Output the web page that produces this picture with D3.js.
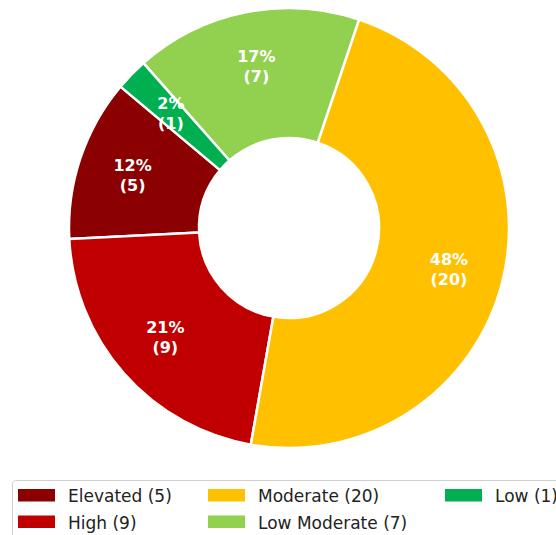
<!DOCTYPE html>
<html>
<head>
<meta charset="utf-8">
<script src="https://cdn.jsdelivr.net/npm/d3@7"></script>
<style>
  html, body { margin: 0; padding: 0; background: #fff; }
  svg { display: block; font-family: "DejaVu Sans", sans-serif; }
</style>
</head>
<body>
<svg id="chart" width="556" height="535"></svg>
<script>
// Risk level categories, counts and colours
const categories = ["Elevated", "High", "Moderate", "Low Moderate", "Low"];
const counts = [5, 9, 20, 7, 1];
const colors = ["#8B0000", "#C00000", "#FFC000", "#92D050", "#00B050"];

const svg = d3.select("#chart");
const cx = 289, cy = 228, outerR = 220, innerR = 90;

const total = d3.sum(counts);
const data = categories.map((c, i) => ({ name: c, value: counts[i], color: colors[i] }));

// Wedges run counter-clockwise starting at 140° (math angle)
const start = (90 - 140) * Math.PI / 180;
const pie = d3.pie().value(d => d.value).sort(null)
  .startAngle(start).endAngle(start - 2 * Math.PI);
const arcs = pie(data);

const arc = d3.arc().innerRadius(innerR).outerRadius(outerR);
const g = svg.append("g").attr("transform", `translate(${cx},${cy})`);

g.selectAll("path.slice").data(arcs).join("path")
  .attr("class", "slice")
  .attr("d", arc)
  .attr("fill", d => d.data.color)
  .attr("stroke", "#fff")
  .attr("stroke-width", 2.5)
  .attr("stroke-linejoin", "round");

// Percentage + count labels at 75% of the radius
const labelArc = d3.arc().innerRadius(outerR * 0.75).outerRadius(outerR * 0.75);
const labels = g.selectAll("text.lbl").data(arcs).join("text")
  .attr("class", "lbl")
  .attr("transform", d => `translate(${labelArc.centroid(d)})`)
  .attr("text-anchor", "middle")
  .attr("fill", "#fff")
  .attr("font-weight", "bold")
  .attr("font-size", 16);
labels.append("tspan")
  .attr("x", 0).attr("y", -4)
  .text(d => `${Math.round(d.data.value / total * 100)}%`);
labels.append("tspan")
  .attr("x", 0).attr("y", 16)
  .text(d => `(${d.data.value})`);

// Legend: 3 columns, filled column by column
const legend = svg.append("g");
legend.append("rect")
  .attr("x", 12.5).attr("y", 480.5)
  .attr("width", 600).attr("height", 80)
  .attr("rx", 3)
  .attr("fill", "#fff")
  .attr("stroke", "#d0d0d0")
  .attr("stroke-width", 1);

const colX = [18, 208, 445];
const rowY = [489, 515.5];
data.forEach((d, i) => {
  const col = Math.floor(i / 2), row = i % 2;
  const x = colX[col], y = rowY[row];
  legend.append("rect")
    .attr("x", x).attr("y", y)
    .attr("width", 37).attr("height", 12.5)
    .attr("fill", d.color);
  legend.append("text")
    .attr("x", x + 50).attr("y", y + 13)
    .attr("font-size", 17)
    .attr("fill", "#222")
    .text(`${d.name} (${d.value})`);
});
</script>
</body>
</html>
